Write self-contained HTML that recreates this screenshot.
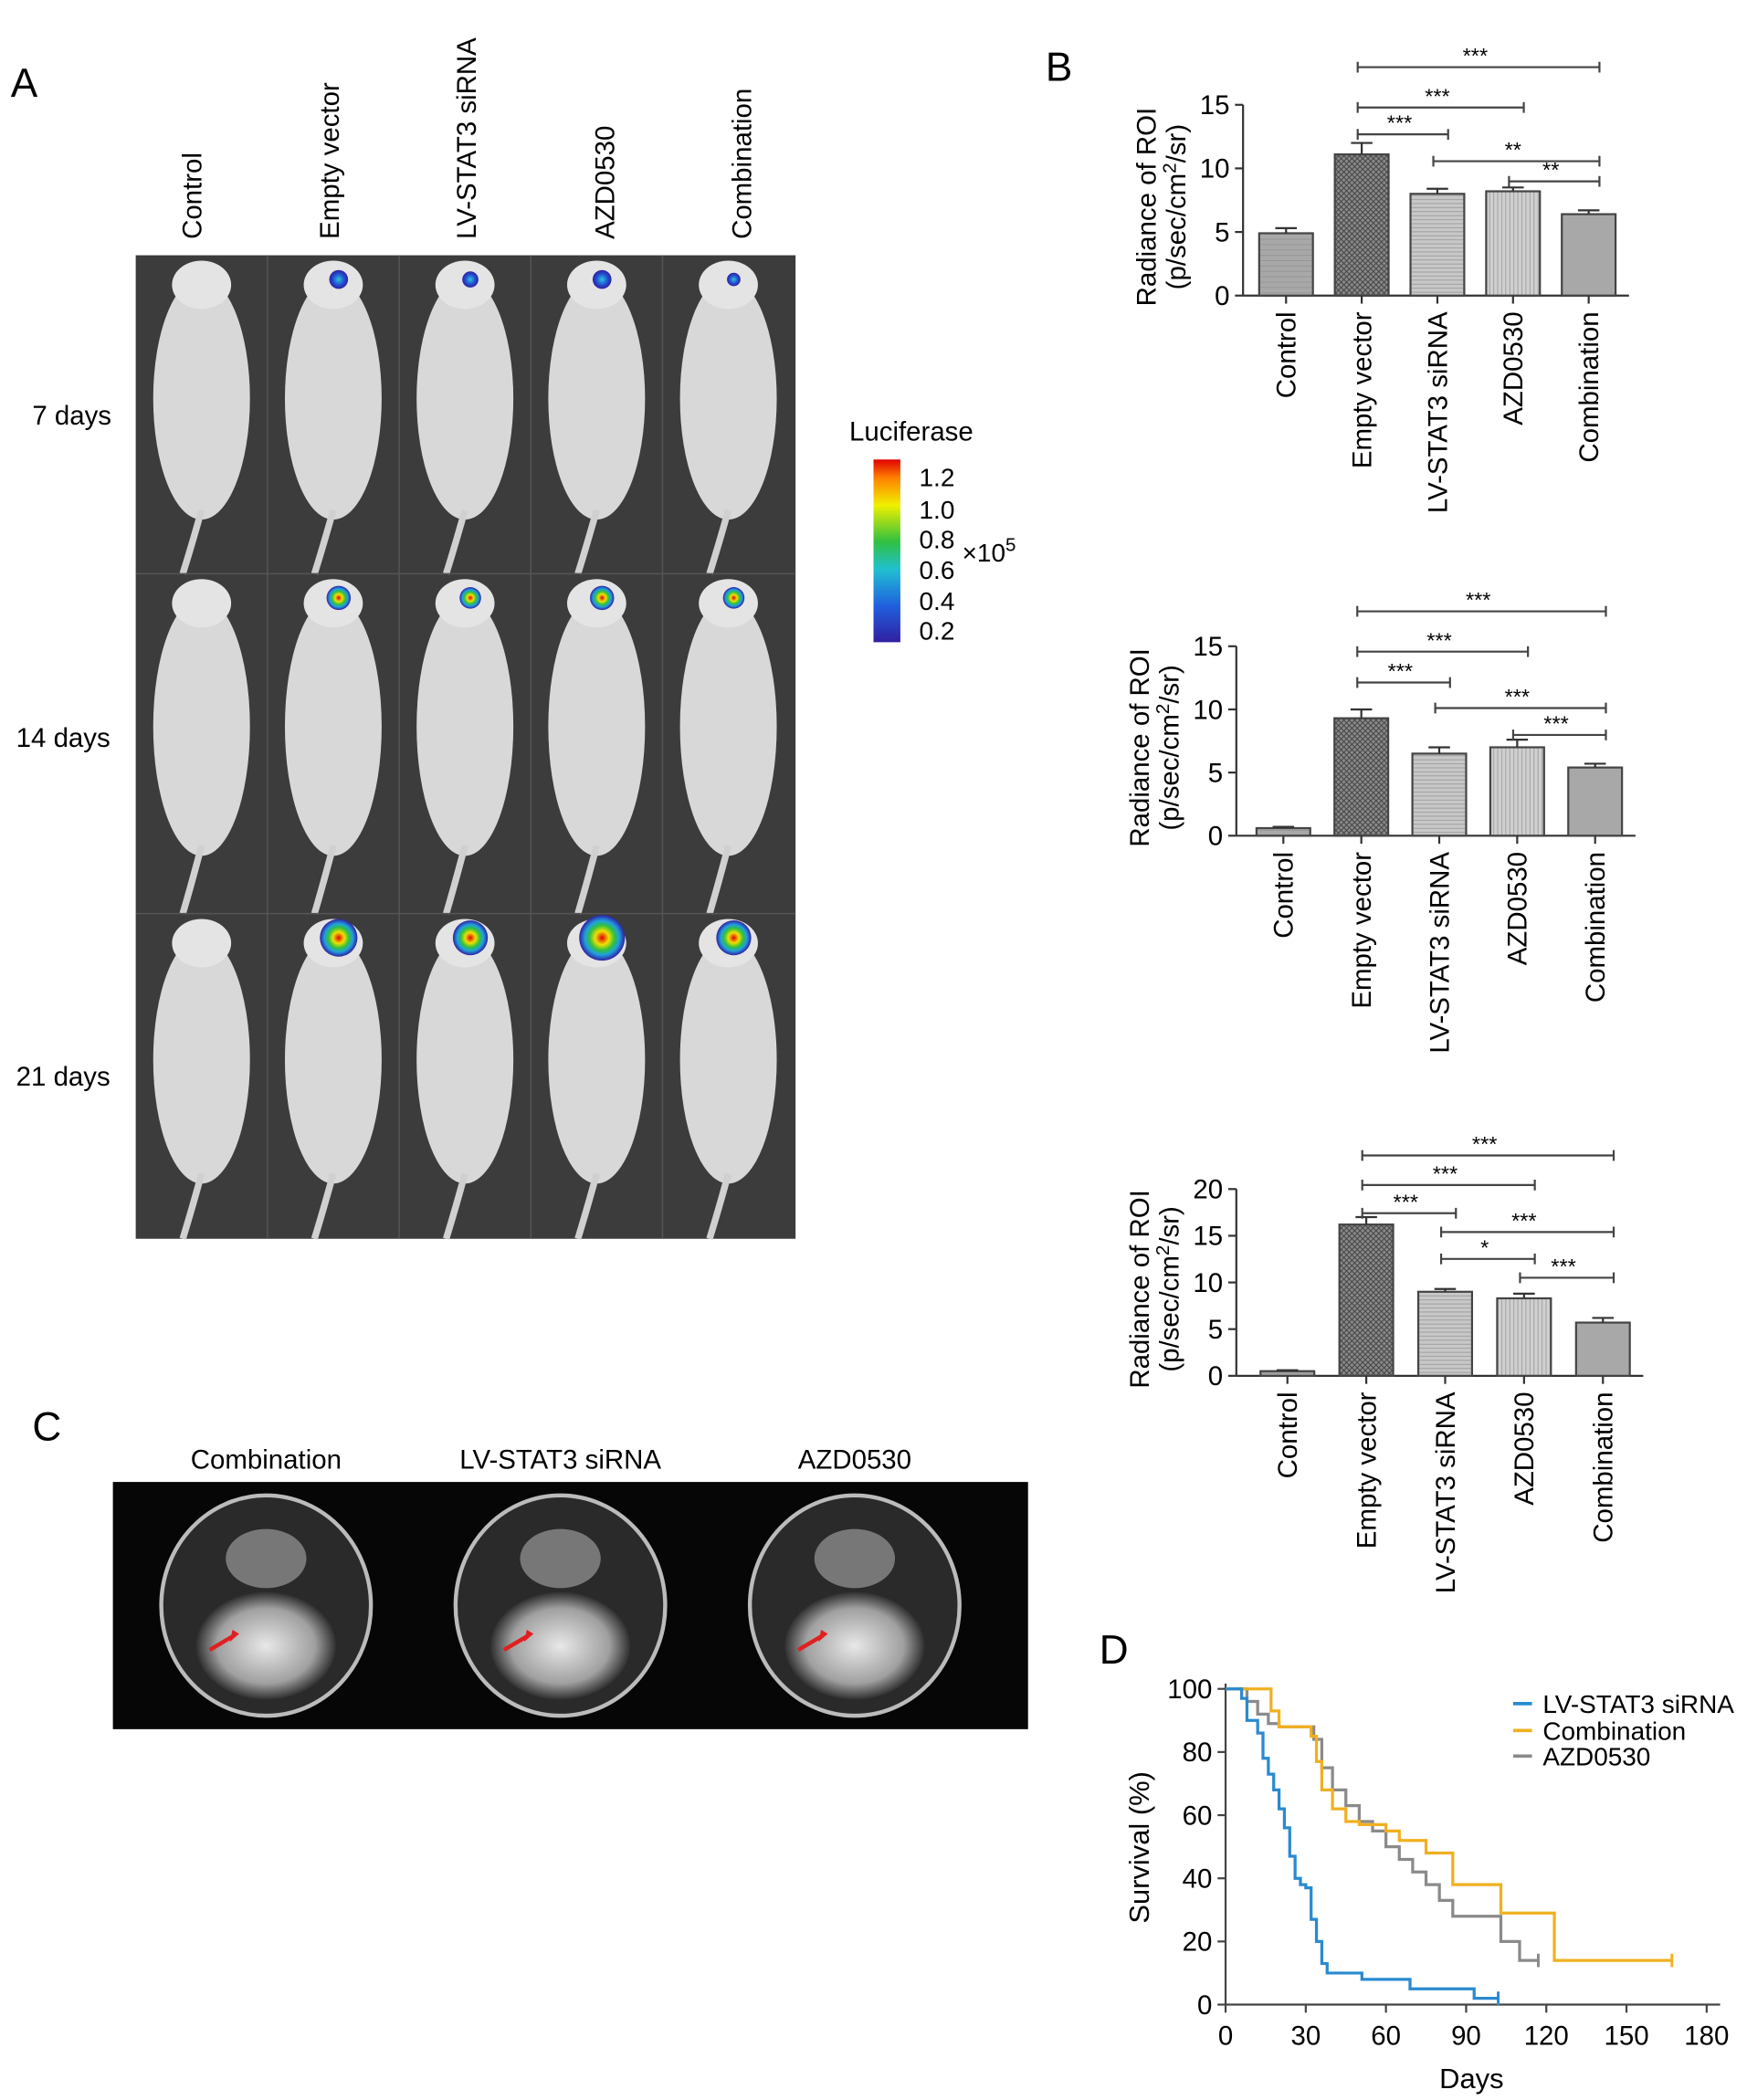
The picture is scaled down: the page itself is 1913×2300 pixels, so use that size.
<!DOCTYPE html>
<html><head><meta charset="utf-8"><style>
html,body{margin:0;padding:0;background:#fff}
svg{display:block;font-family:"Liberation Sans",Arial,sans-serif}
</style></head><body>
<svg id="root" width="1913" height="2300" viewBox="0 0 1300 1563" xmlns="http://www.w3.org/2000/svg">
<defs>
<pattern id="hatchX" width="4" height="4" patternUnits="userSpaceOnUse"><rect width="4" height="4" fill="#8a8a8a"/><path d="M0,0L4,4M4,0L0,4" stroke="#444" stroke-width="0.7"/></pattern>
<pattern id="hatchH" width="4" height="3" patternUnits="userSpaceOnUse"><rect width="4" height="3" fill="#c8c8c8"/><path d="M0,1.5H4" stroke="#999" stroke-width="0.6"/></pattern>
<pattern id="hatchV" width="3" height="4" patternUnits="userSpaceOnUse"><rect width="3" height="4" fill="#d0d0d0"/><path d="M1.5,0V4" stroke="#999" stroke-width="0.6"/></pattern>
<pattern id="hatchC" width="4" height="4" patternUnits="userSpaceOnUse"><rect width="4" height="4" fill="#a8a8a8"/><path d="M0,2H4" stroke="#909090" stroke-width="0.5"/></pattern>
<linearGradient id="lucGrad" x1="0" y1="1" x2="0" y2="0"><stop offset="0" stop-color="#3020a0"/><stop offset="0.2" stop-color="#2060e0"/><stop offset="0.4" stop-color="#20c0d0"/><stop offset="0.55" stop-color="#30c040"/><stop offset="0.75" stop-color="#f0f000"/><stop offset="0.9" stop-color="#ff8000"/><stop offset="1" stop-color="#e00000"/></linearGradient>
<radialGradient id="spot"><stop offset="0" stop-color="#e00000"/><stop offset="0.3" stop-color="#f0e000"/><stop offset="0.55" stop-color="#30c040"/><stop offset="0.75" stop-color="#20a0e0"/><stop offset="1" stop-color="#3020a0"/></radialGradient>
<radialGradient id="spotS"><stop offset="0" stop-color="#30c0e0"/><stop offset="0.6" stop-color="#2050d0"/><stop offset="1" stop-color="#3020a0"/></radialGradient>
<radialGradient id="brain"><stop offset="0" stop-color="#e8e8e8"/><stop offset="0.7" stop-color="#a0a0a0"/><stop offset="1" stop-color="#303030"/></radialGradient>
</defs>

<!-- Panel A -->
<text x="8" y="72" font-size="30">A</text>
<g id="colLabels" font-size="20"></g>
<rect x="101" y="190" width="491" height="732" fill="#3c3c3c"/>
<g id="mice"></g>
<text x="24" y="316" font-size="20">7 days</text>
<text x="12" y="556" font-size="20">14 days</text>
<text x="12" y="808" font-size="20">21 days</text>

<text x="632" y="328" font-size="20">Luciferase</text>
<rect x="650" y="342" width="20" height="136" fill="url(#lucGrad)"/>
<g font-size="19">
<text x="684" y="362">1.2</text><text x="684" y="386">1.0</text><text x="684" y="408">0.8</text><text x="684" y="431">0.6</text><text x="684" y="454">0.4</text><text x="684" y="476">0.2</text>
</g>
<text x="716" y="418" font-size="19">×10<tspan dy="-8" font-size="14">5</tspan></text>

<!-- Panel B -->
<text x="778" y="60" font-size="30">B</text>
<g id="charts"></g>

<!-- Panel C -->
<text x="24" y="1072" font-size="30">C</text>
<text x="198" y="1093" font-size="20" text-anchor="middle">Combination</text>
<text x="417" y="1093" font-size="20" text-anchor="middle">LV-STAT3 siRNA</text>
<text x="636" y="1093" font-size="20" text-anchor="middle">AZD0530</text>
<rect x="84" y="1103" width="681" height="184" fill="#060606"/>
<g id="mri"></g>

<!-- Panel D -->
<text x="818" y="1238" font-size="30">D</text>
<g id="surv"></g>
</svg>

<script>
var NS="http://www.w3.org/2000/svg";
function mk(tag,attrs,parent,txt){var e=document.createElementNS(NS,tag);for(var k in attrs)e.setAttribute(k,attrs[k]);if(txt!==undefined)e.textContent=txt;parent.appendChild(e);return e;}

// ---- Panel A ----
var groups=["Control","Empty vector","LV-STAT3 siRNA","AZD0530","Combination"];
var colX=[150,252,354,457,559];
var cl=document.getElementById('colLabels');
groups.forEach(function(g,i){
  var t=mk('text',{transform:'translate('+colX[i]+',178) rotate(-90)'},cl,g);
  
  
});
var rowsY=[190,427,680], rowsH=[237,253,242];
var spotR=[[0,7,6,7,5],[0,9,8,9,8],[0,14,13,17,13]];
var mice=document.getElementById('mice');
for(var r=0;r<3;r++){
  for(var c=0;c<5;c++){
    var cx=101+98*c+49, y0=rowsY[r];
    var g=mk('g',{},mice);
    
    
    mk('ellipse',{cx:cx,cy:y0+rowsH[r]*0.45,rx:36,ry:rowsH[r]*0.38,fill:'#d8d8d8'},g);
    mk('ellipse',{cx:cx,cy:y0+22,rx:22,ry:18,fill:'#e4e4e4'},g);
    mk('path',{d:'M'+cx+','+(y0+rowsH[r]*0.8)+' Q'+(cx-8)+','+(y0+rowsH[r]*0.92)+' '+(cx-14)+','+(y0+rowsH[r]),stroke:'#d0d0d0','stroke-width':5,fill:'none'},g);
    if(spotR[r][c]>0) mk('circle',{cx:cx+4,cy:y0+18,r:spotR[r][c],fill:r==0?'url(#spotS)':'url(#spot)'},g);
  }
}
for(var k=1;k<5;k++) mk('line',{x1:101+98*k,y1:190,x2:101+98*k,y2:922,stroke:'#555','stroke-width':1},mice);
[427,680].forEach(function(y){mk('line',{x1:101,y1:y,x2:592,y2:y,stroke:'#555','stroke-width':1},mice);});

// ---- Panel B data ----
var chart1Values=[4.9,11.1,8.0,8.2,6.4];
var chart1Errors=[0.4,0.9,0.4,0.3,0.3];
var chart2Values=[0.6,9.3,6.5,7.0,5.4];
var chart2Errors=[0.1,0.7,0.5,0.6,0.3];
var chart3Values=[0.5,16.2,9.0,8.3,5.7];
var chart3Errors=[0.1,0.8,0.3,0.5,0.5];
var chart1Ticks=[0,5,10,15];
var chart2Ticks=[0,5,10,15];
var chart3Ticks=[0,5,10,15,20];
var chart1Sig=[[1,4,"***"],[1,3,"***"],[1,2,"***"],[2,4,"**"],[3,4,"**"]];
var chart2Sig=[[1,4,"***"],[1,3,"***"],[1,2,"***"],[2,4,"***"],[3,4,"***"]];
var chart3Sig=[[1,4,"***"],[1,3,"***"],[1,2,"***"],[2,4,"***"],[2,3,"*"],[3,4,"***"]];
var fills=['url(#hatchC)','url(#hatchX)','url(#hatchH)','url(#hatchV)','#a8a8a8'];

var chartsCfg=[
 {vals:chart1Values,errs:chart1Errors,ticks:chart1Ticks,sig:chart1Sig,ax:925,y0:220,yTop:78,max:15,bx0:957,step:56.3,sigY:[50,80,100,120,135]},
 {vals:chart2Values,errs:chart2Errors,ticks:chart2Ticks,sig:chart2Sig,ax:920,y0:622,yTop:481,max:15,bx0:955,step:58,sigY:[455,485,508,527,547]},
 {vals:chart3Values,errs:chart3Errors,ticks:chart3Ticks,sig:chart3Sig,ax:920,y0:1024,yTop:885,max:20,bx0:958,step:58.7,sigY:[860,882,903,917,937,951]}
];
var chartsG=document.getElementById('charts');
chartsCfg.forEach(function(cf,ci){
  var g=mk('g',{},chartsG);
  
  
  function ys(v){return cf.y0-(v/cf.max)*(cf.y0-cf.yTop);}
  function xs(i){return cf.bx0+i*cf.step;}
  var xEnd=xs(4)+30;
  mk('line',{x1:cf.ax,y1:cf.yTop,x2:cf.ax,y2:cf.y0,stroke:'#333','stroke-width':1.5},g);
  mk('line',{x1:cf.ax,y1:cf.y0,x2:xEnd,y2:cf.y0,stroke:'#333','stroke-width':1.5},g);
  cf.ticks.forEach(function(t){
    var y=ys(t);
    mk('line',{x1:cf.ax-6,y1:y,x2:cf.ax,y2:y,stroke:'#333','stroke-width':1.5},g);
    var tl=mk('text',{x:cf.ax-10,y:y+7,'font-size':20,'text-anchor':'end'},g,t);
    
    
  });
  var yl=mk('text',{transform:'translate('+(cf.ax-65)+','+((cf.y0+cf.yTop)/2+5)+') rotate(-90)','font-size':20,'text-anchor':'middle'},g);
  
  
  mk('tspan',{x:0,dy:0},yl,'Radiance of ROI');
  var t2=mk('tspan',{x:0,dy:22},yl,'(p/sec/cm');
  mk('tspan',{dy:-7,'font-size':14},yl,'2');
  mk('tspan',{dy:7},yl,'/sr)');
  cf.vals.forEach(function(v,i){
    var x=xs(i), bw=40;
    var b=mk('rect',{x:x-bw/2,y:ys(v),width:bw,height:cf.y0-ys(v),fill:fills[i],stroke:'#444','stroke-width':1.5},g);
    
    
    var e=cf.errs[i];
    mk('line',{x1:x,y1:ys(v),x2:x,y2:ys(v+e),stroke:'#333','stroke-width':1.5},g);
    mk('line',{x1:x-8,y1:ys(v+e),x2:x+8,y2:ys(v+e),stroke:'#333','stroke-width':1.5},g);
    mk('line',{x1:x,y1:cf.y0,x2:x,y2:cf.y0+6,stroke:'#333','stroke-width':1.5},g);
    var xl=mk('text',{transform:'translate('+(x+7)+','+(cf.y0+12)+') rotate(-90)','font-size':20,'text-anchor':'end'},g,groups[i]);
    
    
  });
  cf.sig.forEach(function(s,k){
    var y=cf.sigY[k];
    var sl=mk('line',{x1:xs(s[0])-3,y1:y,x2:xs(s[1])+8,y2:y,stroke:'#444','stroke-width':1.5},g);
    
    
    mk('line',{x1:xs(s[0])-3,y1:y-4,x2:xs(s[0])-3,y2:y+4,stroke:'#444','stroke-width':1.5},g);
    mk('line',{x1:xs(s[1])+8,y1:y-4,x2:xs(s[1])+8,y2:y+4,stroke:'#444','stroke-width':1.5},g);
    mk('text',{x:(xs(s[0])+xs(s[1]))/2,y:y-3,'font-size':16,'text-anchor':'middle'},g,s[2]);
  });
});

// ---- Panel C MRI ----
var mriG=document.getElementById('mri');
[198,417,636].forEach(function(cx,i){
  var g=mk('g',{},mriG);
  
  
  mk('ellipse',{cx:cx,cy:1195,rx:78,ry:82,fill:'#2a2a2a',stroke:'#bbb','stroke-width':3},g);
  mk('ellipse',{cx:cx,cy:1160,rx:30,ry:22,fill:'#777'},g);
  mk('ellipse',{cx:cx,cy:1225,rx:52,ry:40,fill:'url(#brain)'},g);
  mk('line',{x1:cx-42,y1:1228,x2:cx-25,y2:1218,stroke:'#e02020','stroke-width':3},g);
  mk('path',{d:'M'+(cx-25)+','+1213+' L'+(cx-20)+','+1216+' L'+(cx-27)+','+1222+' Z',fill:'#e02020'},g);
});

// ---- Panel D survival ----
var survTicksX=[0,30,60,90,120,150,180];
var survTicksY=[0,20,40,60,80,100];
var blueDays=[0,6,8,12,14,16,18,20,22,24,26,28,30,32,34,36,38,51,69,93,102];
var blueSurv=[100,97,90,86,78,73,68,62,56,47,40,38,37,27,20,13,10,8,5,2,2];
var yellowDays=[0,15,17,20,30,32,34,36,40,45,50,55,60,65,75,80,85,100,103,122,123,167];
var yellowSurv=[100,100,93,88,88,85,77,68,62,58,57,57,55,52,48,48,38,38,29,29,14,14];
var grayDays=[0,8,12,16,20,30,33,36,40,45,50,55,60,65,70,75,80,85,100,103,110,117];
var graySurv=[100,96,92,89,88,88,84,75,68,63,58,55,50,46,42,38,33,28,28,20,14,14];
var sg=document.getElementById('surv');
var X0=912,X1=1270,Y0=1492,Y1=1257;
function sx(d){return X0+d/180*(X1-X0);}
function sy(v){return Y0-v/100*(Y0-Y1);}
mk('line',{x1:X0,y1:Y1-4,x2:X0,y2:Y0,stroke:'#444','stroke-width':1.5},sg);
mk('line',{x1:X0,y1:Y0,x2:X1+10,y2:Y0,stroke:'#444','stroke-width':1.5},sg);
survTicksX.forEach(function(t){
  mk('line',{x1:sx(t),y1:Y0,x2:sx(t),y2:Y0+6,stroke:'#444','stroke-width':1.5},sg);
  var l=mk('text',{x:sx(t),y:Y0+30,'font-size':20,'text-anchor':'middle'},sg,t);
  
  
});
survTicksY.forEach(function(t){
  mk('line',{x1:X0-6,y1:sy(t),x2:X0,y2:sy(t),stroke:'#444','stroke-width':1.5},sg);
  var l=mk('text',{x:X0-10,y:sy(t)+7,'font-size':20,'text-anchor':'end'},sg,t);
  
  
});
var xt=mk('text',{x:1095,y:1554,'font-size':21,'text-anchor':'middle'},sg,'Days');


var ytt=mk('text',{transform:'translate(855,1375) rotate(-90)','font-size':21,'text-anchor':'middle'},sg,'Survival (%)');


function step(days,surv,color,name){
  var d='M'+sx(days[0])+','+sy(surv[0]);
  for(var i=1;i<days.length;i++){d+=' H'+sx(days[i])+' V'+sy(surv[i]);}
  var p=mk('path',{d:d,fill:'none',stroke:color,'stroke-width':2.2},sg);
  
  
  var last=days.length-1;
  mk('line',{x1:sx(days[last]),y1:sy(surv[last])-5,x2:sx(days[last]),y2:sy(surv[last])+5,stroke:color,'stroke-width':2},sg);
}
step(grayDays,graySurv,'#8a8a8a','survival-curve-azd0530');
step(yellowDays,yellowSurv,'#f0b020','survival-curve-combination');
step(blueDays,blueSurv,'#2a8ad0','survival-curve-lv-stat3');
var leg=[['LV-STAT3 siRNA','#2a8ad0',1268],['Combination','#f0b020',1288],['AZD0530','#8a8a8a',1307]];
leg.forEach(function(l){
  var g=mk('g',{},sg);
  
  
  mk('line',{x1:1126,y1:l[2],x2:1140,y2:l[2],stroke:l[1],'stroke-width':2.5},g);
  mk('text',{x:1148,y:l[2]+7,'font-size':19},g,l[0]);
});
</script>
</body></html>
